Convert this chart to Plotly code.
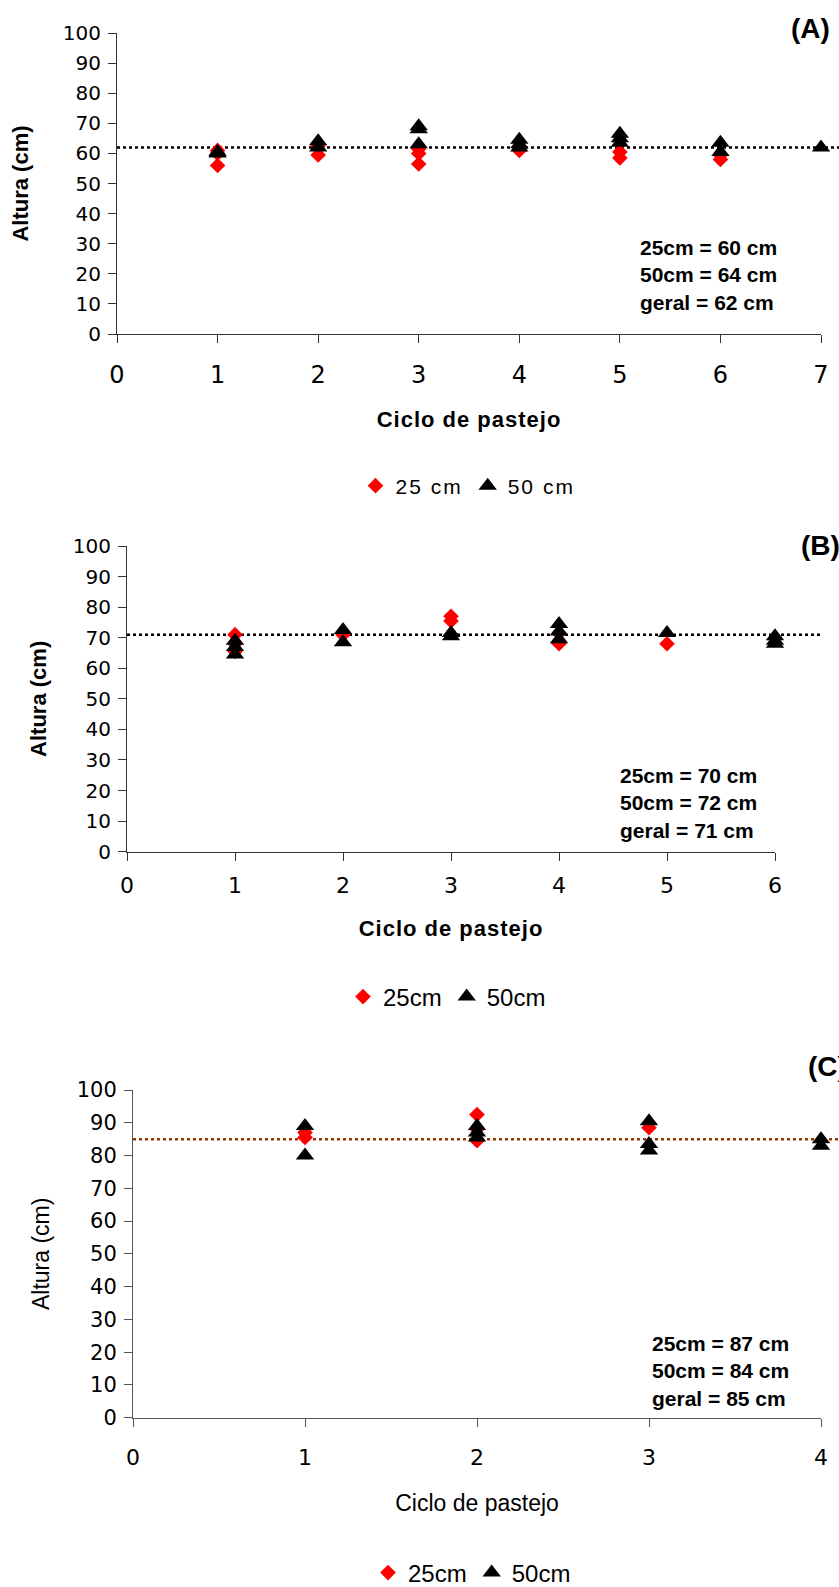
import plotly.graph_objects as go

# ---- data: altura (cm) por ciclo de pastejo ----
# Painel A
a_ciclo_25 = [1, 1, 1, 2, 2, 3, 3, 3, 4, 4, 5, 5, 6, 6]
a_altura_25 = [56, 60, 61, 59.5, 62.5, 56.5, 60, 61.5, 61, 62, 58.5, 60.5, 58, 59.5]
a_ciclo_50 = [1, 1, 2, 2, 3, 3, 3, 4, 4, 4, 5, 5, 5, 6, 6, 7]
a_altura_50 = [60, 60.5, 62, 64, 63, 68, 69, 62, 63, 64.5, 63.5, 65, 66.5, 60.5, 63.5, 62]

# Painel B
b_ciclo_25 = [1, 1, 1, 2, 3, 3, 4, 4, 5]
b_altura_25 = [71, 68, 65.5, 71, 77, 75.5, 68, 71.5, 68]
b_ciclo_50 = [1, 1, 1, 2, 2, 3, 3, 4, 4, 4, 5, 6, 6, 6]
b_altura_50 = [69, 67, 64.5, 72.5, 68.5, 71.5, 70.5, 74.5, 72, 69.5, 71.5, 70.5, 69, 68]

# Painel C
c_ciclo_25 = [1, 1, 2, 2, 2, 3]
c_altura_25 = [87, 85.5, 92.5, 88, 84.5, 88.5]
c_ciclo_50 = [1, 1, 2, 2, 2, 3, 3, 3, 4, 4]
c_altura_50 = [89, 80, 89, 87, 85.5, 90.5, 83.5, 81.5, 85, 83]

# médias por tratamento e geral (A, B, C)
media_25 = [60, 70, 87]
media_50 = [64, 72, 84]
media_geral = [62, 71, 85]

painel_rotulos = ["(A)", "(B)", "(C)"]
ciclos_max = [7, 6, 4]
y_ticks = [0, 10, 20, 30, 40, 50, 60, 70, 80, 90, 100]

# ---- layout helpers (pixel -> paper fraction) ----
W, H = 839, 1587
FONT = "Liberation Sans, Arial, sans-serif"
TICK_FONT = "DejaVu Sans, Verdana, sans-serif"


def px_x(p):
    return p / W


def px_y(p):
    return 1 - p / H


# plot-area boxes in pixels: left, right, top, bottom
boxes = [
    (117, 821, 33, 334),
    (127, 775, 546, 851.7),
    (133, 821, 1090, 1417.7),
]

fig = go.Figure()

series = [
    (a_ciclo_25, a_altura_25, a_ciclo_50, a_altura_50,
     "<span style='letter-spacing:2px'>25 cm</span>",
     "<span style='letter-spacing:2px'>50 cm</span>"),
    (b_ciclo_25, b_altura_25, b_ciclo_50, b_altura_50, "25cm", "50cm"),
    (c_ciclo_25, c_altura_25, c_ciclo_50, c_altura_50, "25cm", "50cm"),
]

legend_ids = ["legend", "legend2", "legend3"]
for i, (x25, y25, x50, y50, n25, n50) in enumerate(series):
    sfx = "" if i == 0 else str(i + 1)
    fig.add_trace(go.Scatter(
        x=x25, y=y25, mode="markers", name=n25,
        marker=dict(symbol="diamond", size=12, color="#FF0000"),
        xaxis="x" + sfx, yaxis="y" + sfx, legend=legend_ids[i],
        cliponaxis=False,
    ))
    fig.add_trace(go.Scatter(
        x=x50, y=y50, mode="markers", name=n50,
        marker=dict(symbol="triangle-up", size=16, color="#000000"),
        xaxis="x" + sfx, yaxis="y" + sfx, legend=legend_ids[i],
        cliponaxis=False,
    ))

layout = dict(
    width=W, height=H,
    margin=dict(l=0, r=0, t=0, b=0, autoexpand=False),
    paper_bgcolor="white", plot_bgcolor="white",
    font=dict(family=FONT, color="black"),
    showlegend=True,
)

axis_color = ["#333333", "#333333", "#555555"]
x_tick_size = [24, 22, 22]
y_tick_size = [20, 20, 21]
title_bold = [True, True, False]
x_title_standoff = [23, 23, 25]
y_title_standoff = [28, 20, 20]
x_tick_standoff = [11, 6, 12]
x_titles = [
    "<b><span style='letter-spacing:1px'>Ciclo de pastejo</span></b>",
    "<b><span style='letter-spacing:1px'>Ciclo de pastejo</span></b>",
    "Ciclo de pastejo",
]

for i, (l, r, t, b) in enumerate(boxes):
    sfx = "" if i == 0 else str(i + 1)
    bold = title_bold[i]
    layout["xaxis" + sfx] = dict(
        domain=[px_x(l), px_x(r)], anchor="y" + sfx,
        range=[0, ciclos_max[i]], tickmode="linear", tick0=0, dtick=1,
        showline=True, linecolor=axis_color[i], linewidth=1,
        ticks="outside", ticklen=8, tickcolor=axis_color[i],
        showgrid=False, zeroline=False,
        tickfont=dict(size=x_tick_size[i], family=TICK_FONT),
        ticklabelstandoff=x_tick_standoff[i],
        title=dict(text=x_titles[i],
                   font=dict(size=22 if bold else 23, family=FONT),
                   standoff=x_title_standoff[i]),
    )
    layout["yaxis" + sfx] = dict(
        domain=[px_y(b), px_y(t)], anchor="x" + sfx,
        range=[0, 100], tickvals=y_ticks,
        showline=True, linecolor=axis_color[i], linewidth=1,
        ticks="outside", ticklen=8, tickcolor=axis_color[i],
        showgrid=False, zeroline=False,
        tickfont=dict(size=y_tick_size[i], family=TICK_FONT),
        ticklabelstandoff=3,
        title=dict(text="<b>Altura (cm)</b>" if bold else "Altura (cm)",
                   font=dict(size=22 if bold else 23, family=FONT),
                   standoff=y_title_standoff[i]),
    )

# legends below each panel
legend_pos = [(468, 486, 21), (447, 997, 24), (472, 1573, 24)]
for i, (lx, ly, fs) in enumerate(legend_pos):
    layout[legend_ids[i]] = dict(
        x=px_x(lx), xanchor="center", y=px_y(ly), yanchor="middle",
        orientation="h", font=dict(size=fs, family=FONT),
        bgcolor="rgba(0,0,0,0)", borderwidth=0,
        itemclick=False, itemdoubleclick=False,
    )

fig.update_layout(**layout)

# overall mean as a dotted reference line
line_colors = ["#000000", "#000000", "#993300"]
line_end = [1.06, 1.07, 1.04]
for i in range(3):
    sfx = "" if i == 0 else str(i + 1)
    fig.add_shape(
        type="line", xref="x" + sfx + " domain", yref="y" + sfx,
        x0=0, x1=line_end[i], y0=media_geral[i], y1=media_geral[i],
        line=dict(color=line_colors[i], width=2.5, dash="dot"),
        layer="below",
    )

# means text box inside each panel
text_pos = [(0.740, 0.196), (0.758, 0.159), (0.751, 0.1425)]
for i in range(3):
    sfx = "" if i == 0 else str(i + 1)
    txt = (f"<b>25cm = {media_25[i]} cm<br>50cm = {media_50[i]} cm<br>"
           f"geral = {media_geral[i]} cm</b>")
    fig.add_annotation(
        xref="x" + sfx + " domain", yref="y" + sfx + " domain",
        x=text_pos[i][0], y=text_pos[i][1], xanchor="left", yanchor="middle",
        text=txt, showarrow=False, align="left",
        font=dict(size=21, family=FONT, color="black"),
    )

# panel labels
label_pos = [(789, 29), (799, 546), (806, 1066)]
for i, (lx, ly) in enumerate(label_pos):
    fig.add_annotation(
        xref="paper", yref="paper", x=px_x(lx), y=px_y(ly),
        xanchor="left", yanchor="middle", text=f"<b>{painel_rotulos[i]}</b>",
        showarrow=False, font=dict(size=28, family=FONT, color="black"),
    )

fig.write_html("out.html")
